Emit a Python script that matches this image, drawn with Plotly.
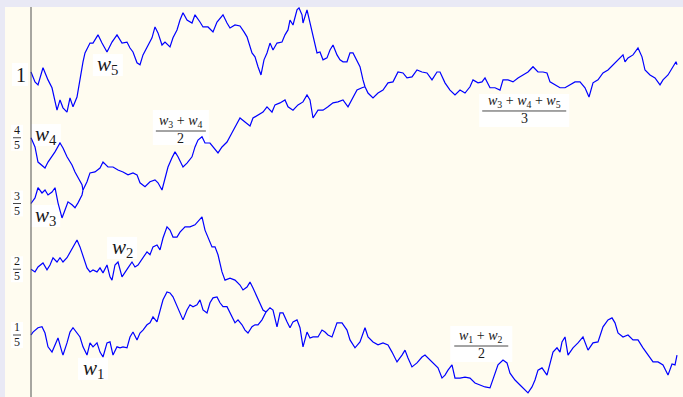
import plotly.graph_objects as go

# Coalescing Brownian paths: (step, position) samples for each branch.
N_STEPS = 646  # total horizon in simulation steps

W1 = [(0, 0.200), (2, 0.209), (7, 0.222), (11, 0.225), (14, 0.206), (17, 0.164), (21, 0.148),
      (24, 0.170), (27, 0.191), (31, 0.148), (32, 0.139), (36, 0.176), (39, 0.209), (42, 0.222),
      (46, 0.206), (49, 0.194), (52, 0.164), (56, 0.139), (59, 0.176), (62, 0.164), (66, 0.176),
      (69, 0.148), (72, 0.133), (76, 0.176), (79, 0.179), (82, 0.139), (86, 0.164), (89, 0.161),
      (92, 0.164), (96, 0.161), (99, 0.194), (102, 0.209), (106, 0.185), (109, 0.206), (112, 0.215),
      (116, 0.231), (119, 0.237), (122, 0.255), (126, 0.240), (129, 0.276), (132, 0.307), (136, 0.331),
      (139, 0.328), (142, 0.316), (146, 0.286), (149, 0.267), (152, 0.246), (156, 0.276), (159, 0.292),
      (162, 0.286), (166, 0.292), (169, 0.307), (172, 0.276), (176, 0.267), (179, 0.298), (182, 0.313),
      (186, 0.316), (189, 0.298), (192, 0.286), (196, 0.286), (201, 0.255), (204, 0.237), (207, 0.246),
      (211, 0.231), (214, 0.215), (217, 0.206), (221, 0.225), (224, 0.231), (227, 0.231), (231, 0.246),
      (235, 0.270)]

W2 = [(0, 0.400), (4, 0.392), (7, 0.407), (12, 0.419), (16, 0.398), (19, 0.413), (22, 0.435),
      (26, 0.422), (29, 0.435), (32, 0.422), (36, 0.435), (39, 0.450), (42, 0.468), (46, 0.489),
      (49, 0.468), (52, 0.438), (56, 0.404), (59, 0.392), (62, 0.398), (66, 0.392), (69, 0.404),
      (72, 0.389), (76, 0.413), (79, 0.377), (81, 0.367), (84, 0.413), (87, 0.422), (91, 0.377),
      (94, 0.389), (97, 0.404), (101, 0.422), (104, 0.407), (107, 0.413), (112, 0.435), (116, 0.453),
      (119, 0.444), (122, 0.468), (126, 0.474), (129, 0.459), (132, 0.495), (136, 0.529), (139, 0.519),
      (142, 0.498), (146, 0.498), (149, 0.513), (154, 0.529), (159, 0.529), (164, 0.535), (169, 0.550),
      (171, 0.559), (174, 0.519), (177, 0.495), (181, 0.468), (184, 0.468), (187, 0.444), (191, 0.392),
      (194, 0.367), (199, 0.373), (204, 0.367), (209, 0.352), (212, 0.337), (216, 0.346), (219, 0.361),
      (222, 0.343), (226, 0.316), (229, 0.301), (232, 0.276), (235, 0.270)]

W12 = [(235, 0.270), (239, 0.283), (242, 0.276), (246, 0.225), (249, 0.267), (252, 0.267), (256, 0.240),
       (259, 0.222), (262, 0.240), (266, 0.246), (269, 0.222), (272, 0.164), (276, 0.209), (279, 0.191),
       (282, 0.194), (287, 0.194), (291, 0.215), (294, 0.209), (297, 0.200), (301, 0.194), (306, 0.237),
       (311, 0.237), (316, 0.215), (319, 0.185), (324, 0.161), (329, 0.179), (334, 0.222), (337, 0.194),
       (342, 0.179), (347, 0.170), (352, 0.176), (357, 0.170), (361, 0.148), (366, 0.118), (371, 0.139),
       (374, 0.154), (377, 0.130), (381, 0.103), (386, 0.115), (391, 0.133), (394, 0.139), (399, 0.124),
       (402, 0.115), (407, 0.100), (411, 0.069), (414, 0.078), (417, 0.093), (421, 0.109), (424, 0.069),
       (429, 0.069), (434, 0.072), (439, 0.069), (444, 0.054), (449, 0.048), (454, 0.042), (459, 0.039),
       (462, 0.063), (467, 0.109), (472, 0.124), (476, 0.115), (479, 0.084), (484, 0.063), (489, 0.048),
       (492, 0.039), (497, 0.024), (501, 0.042), (504, 0.063), (507, 0.093), (511, 0.100), (516, 0.078),
       (519, 0.115), (522, 0.148), (526, 0.161), (529, 0.148), (531, 0.179), (534, 0.194), (537, 0.139),
       (542, 0.161), (547, 0.176), (552, 0.194), (557, 0.154), (562, 0.176), (567, 0.179), (572, 0.225),
       (577, 0.246), (581, 0.252), (584, 0.237), (587, 0.206), (592, 0.194), (597, 0.200), (602, 0.185),
       (607, 0.185), (612, 0.161), (617, 0.139), (622, 0.118), (627, 0.118), (632, 0.109), (637, 0.078),
       (641, 0.112), (644, 0.109), (646, 0.139)]

W3 = [(0, 0.600), (4, 0.617), (7, 0.648), (11, 0.632), (14, 0.641), (17, 0.626), (21, 0.635),
      (24, 0.648), (27, 0.602), (31, 0.556), (34, 0.580), (37, 0.605), (41, 0.596), (44, 0.587),
      (47, 0.602), (51, 0.626), (52, 0.641)]

W4 = [(0, 0.800), (4, 0.772), (7, 0.726), (11, 0.717), (14, 0.708), (17, 0.726), (21, 0.742),
      (24, 0.757), (29, 0.784), (32, 0.769), (36, 0.742), (41, 0.717), (44, 0.696), (47, 0.678),
      (51, 0.657), (52, 0.641)]

W34 = [(52, 0.641), (56, 0.666), (59, 0.693), (64, 0.696), (69, 0.708), (72, 0.726), (77, 0.711),
       (82, 0.711), (87, 0.702), (92, 0.696), (97, 0.687), (102, 0.693), (106, 0.687), (109, 0.663),
       (114, 0.651), (119, 0.666), (124, 0.672), (127, 0.663), (131, 0.641), (134, 0.678), (137, 0.711),
       (141, 0.739), (144, 0.757), (147, 0.742), (152, 0.711), (156, 0.723), (161, 0.742), (164, 0.772),
       (167, 0.793), (171, 0.803), (174, 0.784), (179, 0.784), (184, 0.763), (187, 0.754), (191, 0.772),
       (196, 0.787), (201, 0.815), (204, 0.833), (209, 0.860), (214, 0.848), (219, 0.836), (222, 0.860),
       (227, 0.869), (232, 0.878), (236, 0.894), (241, 0.878), (244, 0.900), (249, 0.906), (254, 0.915),
       (257, 0.894), (262, 0.884), (267, 0.900), (272, 0.909), (276, 0.930), (279, 0.915), (282, 0.860),
       (287, 0.884), (292, 0.884), (297, 0.894), (302, 0.906), (307, 0.909), (312, 0.915), (317, 0.894),
       (322, 0.924), (326, 0.945), (331, 0.952), (334, 0.955)]

W5 = [(0, 1.000), (4, 0.970), (7, 0.961), (12, 1.013), (17, 0.976), (21, 0.952), (26, 0.884),
      (29, 0.915), (32, 0.891), (36, 0.878), (39, 0.921), (42, 0.894), (46, 0.924), (49, 0.985),
      (52, 1.031), (54, 1.058), (59, 1.088), (62, 1.088), (67, 1.113), (71, 1.088), (76, 1.061),
      (81, 1.091), (86, 1.113), (91, 1.088), (96, 1.091), (99, 1.073), (102, 1.061), (106, 1.028),
      (109, 1.022), (112, 1.052), (117, 1.082), (121, 1.104), (124, 1.137), (127, 1.119), (131, 1.082),
      (134, 1.091), (139, 1.076), (142, 1.104), (146, 1.128), (149, 1.158), (152, 1.180), (156, 1.158),
      (161, 1.149), (164, 1.174), (169, 1.152), (172, 1.137), (177, 1.137), (182, 1.122), (186, 1.152),
      (192, 1.174), (196, 1.149), (199, 1.134), (204, 1.143), (209, 1.140), (213, 1.122), (216, 1.107),
      (221, 1.058), (224, 1.046), (227, 1.016), (230, 0.991), (233, 1.037), (236, 1.058), (239, 1.088),
      (242, 1.067), (246, 1.088), (251, 1.091), (254, 1.113), (257, 1.128), (259, 1.158), (262, 1.143),
      (266, 1.189), (268, 1.195), (271, 1.174), (272, 1.149), (276, 1.189), (279, 1.149), (282, 1.119),
      (286, 1.058), (289, 1.061), (292, 1.037), (296, 1.043), (299, 1.067), (302, 1.082), (306, 1.052),
      (309, 1.037), (312, 1.031), (316, 1.031), (319, 1.058), (322, 1.058), (326, 1.031), (329, 1.016),
      (332, 0.976), (334, 0.955)]

W345 = [(334, 0.955), (337, 0.936), (342, 0.921), (347, 0.936), (352, 0.945), (357, 0.967), (362, 0.970),
        (367, 1.000), (372, 0.997), (376, 0.982), (381, 0.985), (386, 1.006), (391, 1.000), (396, 0.997),
        (401, 0.976), (406, 1.000), (409, 1.000), (414, 0.967), (419, 0.945), (424, 0.930), (429, 0.945),
        (434, 0.936), (439, 0.955), (442, 0.976), (447, 0.967), (451, 0.970), (454, 0.982), (459, 0.952),
        (464, 0.952), (469, 0.945), (472, 0.976), (477, 0.976), (482, 0.970), (487, 0.982), (492, 0.991),
        (497, 1.000), (502, 1.016), (507, 1.000), (512, 1.000), (516, 0.997), (519, 0.970), (524, 0.961),
        (529, 0.952), (534, 0.952), (539, 0.961), (544, 0.970), (549, 0.970), (554, 0.952), (558, 0.924),
        (562, 0.967), (567, 0.976), (572, 0.997), (577, 1.006), (582, 1.022), (587, 1.037), (592, 1.052),
        (594, 1.031), (597, 1.043), (602, 1.052), (607, 1.073), (611, 1.046), (614, 1.006), (619, 0.991),
        (624, 0.982), (629, 0.961), (632, 0.976), (637, 0.991), (642, 1.016), (645, 1.031), (646, 1.022)]

# Starting positions shown on the vertical axis
TICK_VALUES = [1.0, 0.8, 0.6, 0.4, 0.2]
TICK_NUMERATORS = ["1", "4", "3", "2", "1"]
TICK_DENOMINATORS = [None, "5", "5", "5", "5"]

BLUE = "#0000ff"
INK = "#1a1a1a"
SERIF = "Liberation Serif, DejaVu Serif, serif"

fig = go.Figure()

for branch in [W1, W2, W12, W3, W4, W34, W5, W345]:
    fig.add_trace(go.Scatter(
        x=[s / N_STEPS for s, _ in branch],
        y=[v for _, v in branch],
        mode="lines",
        line=dict(color=BLUE, width=1.2),
        hoverinfo="skip",
        showlegend=False,
    ))

shapes = []
annotations = []

# vertical axis at t = 0
shapes.append(dict(type="line", xref="x", yref="paper", x0=0, x1=0, y0=0, y1=1,
                   line=dict(color="#505050", width=1), layer="above"))


def white_box(x, y, dx0, dx1, dy0, dy1):
    # label backgrounds sit under the paths
    shapes.append(dict(type="rect", xref="x", yref="y", xsizemode="pixel", ysizemode="pixel",
                       xanchor=x, yanchor=y, x0=dx0, x1=dx1, y0=dy0, y1=dy1,
                       fillcolor="white", line=dict(width=0), layer="below"))


def fraction(x, y, num, den, size, bar_w, box, xshift=0):
    white_box(x, y, xshift + box[0], xshift + box[1], box[2], box[3])
    shapes.append(dict(type="line", xref="x", yref="y", xsizemode="pixel", ysizemode="pixel",
                       xanchor=x, yanchor=y, x0=xshift - bar_w / 2, x1=xshift + bar_w / 2, y0=0, y1=0,
                       line=dict(color=INK, width=0.8), layer="above"))
    annotations.append(dict(x=x, y=y, xref="x", yref="y", text=num, showarrow=False,
                            xanchor="center", yanchor="bottom", xshift=xshift, yshift=0,
                            borderpad=0, font=dict(family=SERIF, size=size, color=INK)))
    annotations.append(dict(x=x, y=y, xref="x", yref="y", text=den, showarrow=False,
                            xanchor="center", yanchor="top", xshift=xshift, yshift=1,
                            borderpad=0, font=dict(family=SERIF, size=size, color=INK)))


for val, num, den in zip(TICK_VALUES, TICK_NUMERATORS, TICK_DENOMINATORS):
    if den is None:
        white_box(0, val, -19, -3, -14, 9)
        annotations.append(dict(x=0, y=val, xref="x", yref="y", text=num, showarrow=False,
                                xanchor="center", yanchor="middle", xshift=-10, yshift=-3,
                                borderpad=0, font=dict(family=SERIF, size=20, color=INK)))
    else:
        fraction(0, val, num, den, 12, 8, (-6, 6, -13, 13), xshift=-14)

# path names
PATH_LABELS = [
    ("<i>w</i><sub>5</sub>", 0.119, 1.021),
    ("<i>w</i><sub>4</sub>", 0.023, 0.808),
    ("<i>w</i><sub>3</sub>", 0.022, 0.562),
    ("<i>w</i><sub>2</sub>", 0.141, 0.465),
    ("<i>w</i><sub>1</sub>", 0.096, 0.097),
]
for text, x, y in PATH_LABELS:
    white_box(x, y, -15, 15, -11, 11)
    annotations.append(dict(x=x, y=y, xref="x", yref="y", text=text, showarrow=False,
                            xanchor="center", yanchor="middle", borderpad=0,
                            font=dict(family=SERIF, size=21, color=INK)))

# merged-path names
fraction(0.232, 0.8205, "<i>w</i><sub>3</sub> + <i>w</i><sub>4</sub>", "2", 14, 50, (-28, 28, -14, 21))
fraction(0.7635, 0.8814, "<i>w</i><sub>3</sub> + <i>w</i><sub>4</sub> + <i>w</i><sub>5</sub>", "3", 14, 84,
         (-45, 45, -16, 17))
fraction(0.697, 0.1665, "<i>w</i><sub>1</sub> + <i>w</i><sub>2</sub>", "2", 14, 54, (-31, 31, -16, 20))

fig.update_layout(
    width=683, height=397,
    margin=dict(l=5, r=0, t=7, b=0),
    paper_bgcolor="#e9e9f5",
    plot_bgcolor="#fffcf0",
    xaxis=dict(visible=False, range=[-26 / N_STEPS, 652 / N_STEPS], fixedrange=True),
    yaxis=dict(visible=False, range=[0.0114, 1.1977], fixedrange=True),
    shapes=shapes,
    annotations=annotations,
    showlegend=False,
)

fig.write_html("out.html")
